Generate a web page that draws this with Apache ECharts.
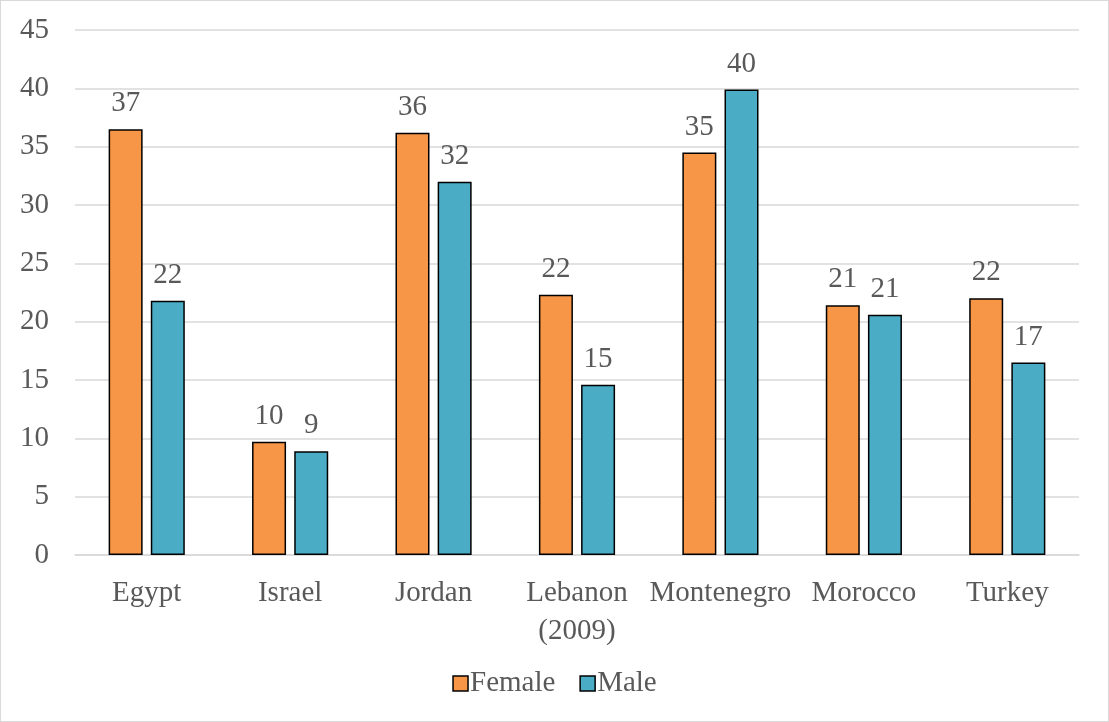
<!DOCTYPE html>
<html>
<head>
<meta charset="utf-8">
<script src="https://cdn.jsdelivr.net/npm/echarts@6/dist/echarts.min.js"></script>
<style>
  html, body { margin: 0; padding: 0; background: #fff; }
  #chart { width: 1109px; height: 722px; box-sizing: border-box; border: 1px solid #d9d9d9; }
</style>
</head>
<body>
<div id="chart"></div>
<script>
// categories and values
const countries = ['Egypt', 'Israel', 'Jordan', 'Lebanon\n(2009)', 'Montenegro', 'Morocco', 'Turkey']
const female = [36.5, 9.7, 36.2, 22.3, 34.5, 21.4, 22.0]
const male = [21.8, 8.9, 32.0, 14.6, 39.9, 20.6, 16.5]

const textColor = '#595959'
const font = '"Liberation Serif", "Times New Roman", serif'
const fontSize = 29

const chart = echarts.init(document.getElementById('chart'))

const barSeries = (name, data, color) => ({
  name,
  type: 'bar',
  data,
  barWidth: 34,
  barGap: '24%',
  itemStyle: { color, borderColor: '#000', borderWidth: 1.5 },
  label: {
    show: true,
    position: 'top',
    distance: 11,
    color: textColor,
    fontFamily: font,
    fontSize,
    formatter: p => Math.round(p.value)
  }
})

chart.setOption({
  animation: false,
  textStyle: { fontFamily: font },
  grid: { left: 74, right: 29, top: 29, bottom: 166, containLabel: false },
  legend: {
    bottom: 18,
    left: 'center',
    itemWidth: 15,
    itemHeight: 15,
    itemGap: 24,
    icon: 'rect',
    itemStyle: { borderColor: '#000', borderWidth: 1.5 },
    textStyle: { color: textColor, fontFamily: font, fontSize, padding: [0, 0, 0, -3] },
    data: ['Female', 'Male']
  },
  xAxis: {
    type: 'category',
    data: countries,
    axisLine: { lineStyle: { color: '#d9d9d9', width: 1.5 } },
    axisTick: { show: false },
    axisLabel: { interval: 0, color: textColor, fontFamily: font, fontSize, margin: 19, lineHeight: 38 }
  },
  yAxis: {
    type: 'value',
    min: 0,
    max: 45,
    interval: 5,
    axisLine: { show: false },
    axisTick: { show: false },
    axisLabel: { color: textColor, fontFamily: font, fontSize, margin: 26 },
    splitLine: { lineStyle: { color: '#d9d9d9', width: 1.5 } }
  },
  series: [
    barSeries('Female', female, '#F79646'),
    barSeries('Male', male, '#4BACC6')
  ]
})
</script>
</body>
</html>
